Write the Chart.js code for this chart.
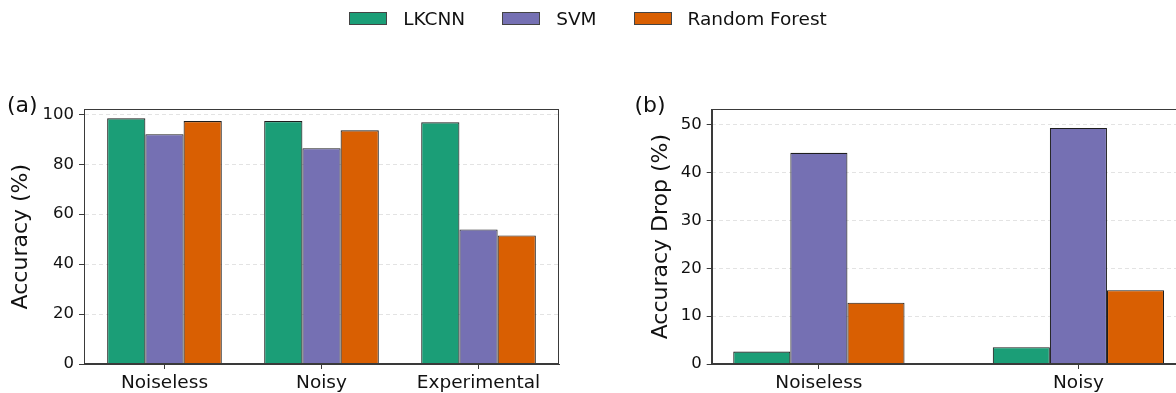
<!DOCTYPE html>
<html><head><meta charset="utf-8">
<script src="https://cdn.jsdelivr.net/npm/chart.js@4.4.1/dist/chart.umd.min.js"></script>
<style>
html,body{margin:0;padding:0;width:1176px;height:393px;overflow:hidden;background:#fff;}
#wrap{position:relative;width:1176px;height:393px;overflow:hidden;}
#legend{position:absolute;left:0;top:0;width:1176px;height:37px;display:flex;justify-content:center;align-items:center;font-family:'DejaVu Sans',sans-serif;font-size:18.5px;color:#111;z-index:2;}
.item{display:flex;align-items:center;margin:0 18.5px;}
.sw{width:38px;height:13px;box-sizing:border-box;border:1px solid #444;margin-right:16px;}
#ca{position:absolute;left:0;top:0;}
#cb{position:absolute;left:600px;top:0;}
</style></head>
<body><div id="wrap">
<div id="legend"></div>
<canvas id="ca" width="600" height="393"></canvas>
<canvas id="cb" width="600" height="393"></canvas>
</div>
<script>
const categoriesA = ['Noiseless', 'Noisy', 'Experimental'];
const categoriesB = ['Noiseless', 'Noisy'];
const seriesNames = ['LKCNN', 'SVM', 'Random Forest'];
const seriesColors = ['#1b9e77', '#7570b3', '#d95f02'];
const lkcnnAccuracy = [98.4, 97.3, 96.8];
const svmAccuracy = [92.0, 86.4, 53.9];
const rfAccuracy = [97.3, 93.6, 51.5];
const lkcnnDrop = [2.6, 3.5];
const svmDrop = [44.1, 49.3];
const rfDrop = [12.8, 15.4];
const yTicksA = [0, 20, 40, 60, 80, 100];
const yTicksB = [0, 10, 20, 30, 40, 50];

// HTML legend
const leg = document.getElementById('legend');
seriesNames.forEach((n, k) => {
  const it = document.createElement('div'); it.className = 'item';
  const sw = document.createElement('div'); sw.className = 'sw'; sw.style.background = seriesColors[k];
  const tx = document.createElement('span'); tx.textContent = n;
  it.appendChild(sw); it.appendChild(tx); leg.appendChild(it);
});

Chart.defaults.font.family = "'DejaVu Sans', sans-serif";
Chart.defaults.color = '#111';
const AXIS = '#3a3a3a';

const frame = {
  id: 'frame',
  afterDatasetsDraw(chart) {
    const {ctx, chartArea: a} = chart;
    ctx.save();
    ctx.strokeStyle = AXIS; ctx.lineWidth = 1;
    const l = Math.round(a.left) + 0.5, t = Math.round(a.top) + 0.5;
    const r = Math.round(a.right) - 0.5, b = Math.round(a.bottom) - 0.5;
    ctx.strokeRect(l, t, r - l, b - t);
    ctx.restore();
  }
};

function makeChart(id, cfg) {
  const datasets = cfg.series.map((arr, k) => ({
    label: seriesNames[k],
    data: arr.map((v, i) => ({x: i, y: v})),
    backgroundColor: seriesColors[k],
    borderColor: '#1e1e1e',
    borderWidth: 1.1,
    borderSkipped: 'start',
    categoryPercentage: cfg.catPct,
    barPercentage: 1
  }));
  return new Chart(document.getElementById(id), {
    type: 'bar',
    data: {datasets},
    plugins: [frame],
    options: {
      responsive: false, animation: false, events: [],
      layout: {padding: {left: cfg.pl, right: cfg.pr, top: cfg.pt, bottom: 0}},
      plugins: {
        legend: {display: false}, tooltip: {enabled: false},
        title: {display: true, text: cfg.label, align: 'start', color: '#111', font: {size: 22, weight: 'normal', lineHeight: 0.3}, padding: 0}
      },
      scales: {
        x: {
          type: 'linear', min: cfg.xmin, max: cfg.xmax, offset: false, bounds: 'data',
          grid: {display: true, offset: false, drawOnChartArea: false, drawTicks: true, tickLength: 5, tickColor: AXIS, tickWidth: 1},
          border: {display: true, color: AXIS, width: 1},
          ticks: {font: {size: 18.5}, padding: 3, maxRotation: 0, autoSkip: false, callback: (v) => cfg.cats[v]},
          afterBuildTicks: s => { s.ticks = cfg.cats.map((_, i) => ({value: i})); },
          afterFit: s => { s.height = 29; }
        },
        y: {
          type: 'linear', min: 0, max: cfg.ymax, bounds: 'data',
          grid: {color: 'rgba(0,0,0,0.14)', lineWidth: 0.8, tickLength: 5, tickColor: AXIS, tickWidth: 1, tickBorderDash: []},
          border: {display: true, color: AXIS, width: 1, dash: [4, 3]},
          ticks: {font: {size: 16.5}, padding: 5, callback: v => String(v)},
          afterBuildTicks: s => { s.ticks = cfg.yTicks.map(v => ({value: v})); },
          title: {display: true, text: cfg.ytitle, color: '#111', font: {size: 22}, padding: {top: cfg.tp, bottom: 0}},
          afterFit: s => { s.width = cfg.yw; }
        }
      }
    }
  });
}

makeChart('ca', {
  cats: categoriesA, series: [lkcnnAccuracy, svmAccuracy, rfAccuracy], label: '(a)',
  ytitle: 'Accuracy (%)', yTicks: yTicksA, ymax: 102, xmin: -0.5125, xmax: 2.5125,
  catPct: 0.73, pl: 7, yw: 77, pr: 41, pt: 102.7, tp: 0.8
});
makeChart('cb', {
  cats: categoriesB, series: [lkcnnDrop, svmDrop, rfDrop], label: '(b)',
  ytitle: 'Accuracy Drop (%)', yTicks: yTicksB, ymax: 53.2, xmin: -0.413, xmax: 1.413,
  catPct: 0.66, pl: 34.5, yw: 77.2, pr: 14.4, pt: 102.7, tp: 13.3
});
</script>
</body></html>
